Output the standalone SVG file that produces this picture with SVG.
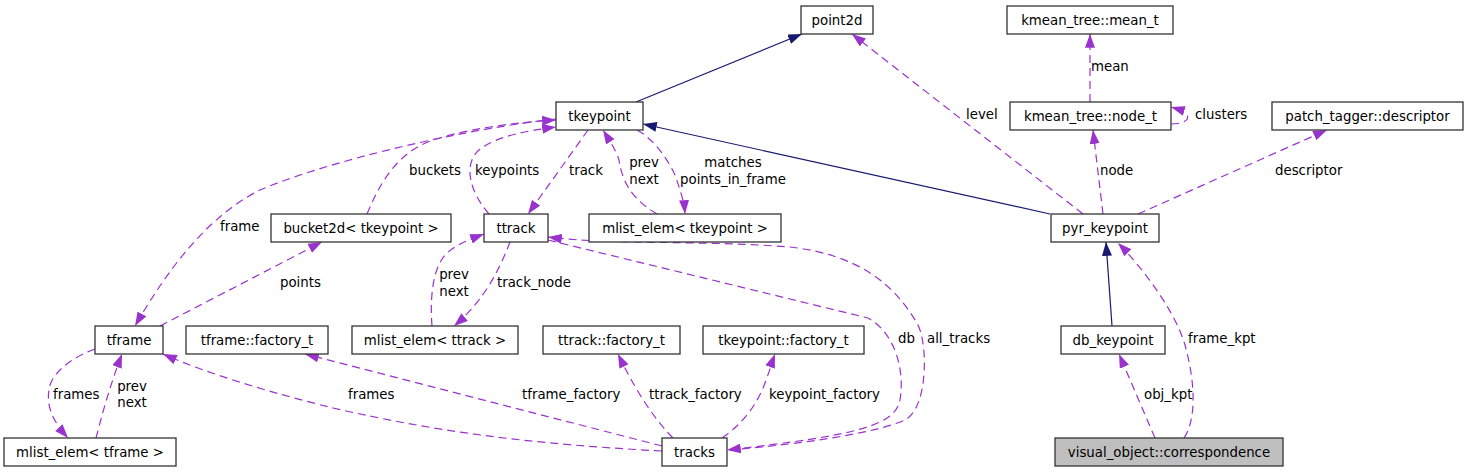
<svg xmlns="http://www.w3.org/2000/svg" width="1468" height="472" viewBox="0 0 1468 472">
<style>
.n rect{fill:#fff;stroke:#333;stroke-width:1.3}
.n.root rect{fill:#bfbfbf}
text{font-family:"DejaVu Sans","Liberation Sans",sans-serif;font-size:13.33px;fill:#000}
.n text{text-anchor:middle}
.m{text-anchor:middle}
.u{fill:none;stroke:#9a32cd;stroke-width:1.2;stroke-dasharray:8,5;marker-end:url(#pa)}
.i{fill:none;stroke:#191970;stroke-width:1.2;marker-end:url(#ba)}
</style>
<defs>
<marker id="pa" markerUnits="userSpaceOnUse" markerWidth="14" markerHeight="10" viewBox="0 0 13 9.4" refX="13" refY="4.7" orient="auto"><path d="M0,0L13,4.7L0,9.4Z" fill="#9a32cd"/></marker>
<marker id="ba" markerUnits="userSpaceOnUse" markerWidth="14" markerHeight="10" viewBox="0 0 13 9.4" refX="13" refY="4.7" orient="auto"><path d="M0,0L13,4.7L0,9.4Z" fill="#191970"/></marker>
</defs>
<rect width="1468" height="472" fill="#fff"/>
<g id="connectors">
<path class="i" d="M636,102L802,34"/>
<path class="i" d="M1050,214L643,124"/>
<path class="i" d="M1112,326L1106,242"/>
<path class="u" d="M1083,214L852,34"/>
<path class="u" d="M1090,102L1090,34"/>
<path class="u" d="M1171,124C1188,124 1198,115 1171,107"/>
<path class="u" d="M1103,214L1093,130"/>
<path class="u" d="M1138,214L1327,130"/>
<path class="u" d="M1184,438C1196,420 1196,385 1185,345C1175,310 1140,265 1118,243"/>
<path class="u" d="M1155,438L1119,354"/>
<path class="u" d="M556,119C470,128 330,160 260,190C210,215 170,265 135,326"/>
<path class="u" d="M367,214C385,170 405,150 433,140C470,128 520,122 556,120"/>
<path class="u" d="M489,214C468,190 462,160 483,147C500,136 525,131 556,127"/>
<path class="u" d="M588,130L528,214"/>
<path class="u" d="M657,214C630,198 622,180 619,160C616,150 608,138 603,130"/>
<path class="u" d="M637,130C655,140 668,160 675,175C680,190 684,200 685,214"/>
<path class="u" d="M160,326L322,242"/>
<path class="u" d="M432,326C430,300 432,270 445,255C455,245 468,240 484,234"/>
<path class="u" d="M510,242C500,268 485,300 454,326"/>
<path class="u" d="M548,240L868,318C895,333 905,370 900,400C895,425 860,435 727,450"/>
<path class="u" d="M729,450C790,445 870,435 905,420C928,408 928,345 918,325C895,285 860,255 790,247C700,240 610,245 548,237"/>
<path class="u" d="M95,349C75,356 55,370 50,385C45,405 52,420 68,438"/>
<path class="u" d="M96,438C102,415 110,385 122,354"/>
<path class="u" d="M662,451C550,445 450,435 333,408C280,395 210,375 163,354"/>
<path class="u" d="M662,446L305,354"/>
<path class="u" d="M673,438C660,425 640,400 618,354"/>
<path class="u" d="M722,438C740,426 758,405 766,380C770,370 772,362 775,354"/>
</g>
<g id="edge-labels">
<text x="220" y="231">frame</text>
<text x="409" y="175">buckets</text>
<text x="475" y="175">keypoints</text>
<text x="569" y="175">track</text>
<text class="m" x="644" y="167">prev</text>
<text class="m" x="644" y="184">next</text>
<text class="m" x="733" y="167">matches</text>
<text class="m" x="733" y="184">points_in_frame</text>
<text x="280" y="287">points</text>
<text class="m" x="454" y="279">prev</text>
<text class="m" x="454" y="296">next</text>
<text x="497" y="287">track_node</text>
<text x="53" y="399">frames</text>
<text class="m" x="132" y="391">prev</text>
<text class="m" x="132" y="407">next</text>
<text x="348" y="399">frames</text>
<text x="522" y="399">tframe_factory</text>
<text x="649" y="399">ttrack_factory</text>
<text x="769" y="399">keypoint_factory</text>
<text x="898" y="343">db</text>
<text x="927" y="343">all_tracks</text>
<text x="966" y="119">level</text>
<text x="1091" y="71">mean</text>
<text x="1195" y="119">clusters</text>
<text x="1100" y="175">node</text>
<text x="1275" y="175">descriptor</text>
<text x="1188" y="343">frame_kpt</text>
<text x="1144" y="399">obj_kpt</text>
</g>
<g id="point2d" class="n"><rect x="801" y="6" width="72" height="28"/><text x="837" y="25">point2d</text></g>
<g id="tkeypoint" class="n"><rect x="556" y="102" width="87" height="28"/><text x="599.5" y="121">tkeypoint</text></g>
<g id="mean_t" class="n"><rect x="1007" y="6" width="166" height="28"/><text x="1090" y="25">kmean_tree::mean_t</text></g>
<g id="node_t" class="n"><rect x="1010" y="102" width="161" height="28"/><text x="1090.5" y="121">kmean_tree::node_t</text></g>
<g id="descriptor" class="n"><rect x="1272" y="102" width="191" height="28"/><text x="1367.5" y="121">patch_tagger::descriptor</text></g>
<g id="bucket2d" class="n"><rect x="271" y="214" width="180" height="28"/><text x="361" y="233">bucket2d&lt; tkeypoint &gt;</text></g>
<g id="ttrack" class="n"><rect x="484" y="214" width="64" height="28"/><text x="516" y="233">ttrack</text></g>
<g id="mlist_tkeypoint" class="n"><rect x="589" y="214" width="192" height="28"/><text x="685" y="233">mlist_elem&lt; tkeypoint &gt;</text></g>
<g id="pyr_keypoint" class="n"><rect x="1051" y="214" width="108" height="28"/><text x="1105" y="233">pyr_keypoint</text></g>
<g id="tframe" class="n"><rect x="95" y="326" width="68" height="28"/><text x="129" y="345">tframe</text></g>
<g id="tframe_factory" class="n"><rect x="186" y="326" width="142" height="28"/><text x="257" y="345">tframe::factory_t</text></g>
<g id="mlist_ttrack" class="n"><rect x="352" y="326" width="166" height="28"/><text x="435" y="345">mlist_elem&lt; ttrack &gt;</text></g>
<g id="ttrack_factory" class="n"><rect x="543" y="326" width="137" height="28"/><text x="611.5" y="345">ttrack::factory_t</text></g>
<g id="tkeypoint_factory" class="n"><rect x="703" y="326" width="161" height="28"/><text x="783.5" y="345">tkeypoint::factory_t</text></g>
<g id="db_keypoint" class="n"><rect x="1061" y="326" width="104" height="28"/><text x="1113" y="345">db_keypoint</text></g>
<g id="mlist_tframe" class="n"><rect x="4" y="438" width="172" height="28"/><text x="90" y="457">mlist_elem&lt; tframe &gt;</text></g>
<g id="tracks" class="n"><rect x="662" y="438" width="65" height="28"/><text x="694.5" y="457">tracks</text></g>
<g id="correspondence" class="n root"><rect x="1055" y="438" width="228" height="28"/><text x="1169" y="457">visual_object::correspondence</text></g>
</svg>
